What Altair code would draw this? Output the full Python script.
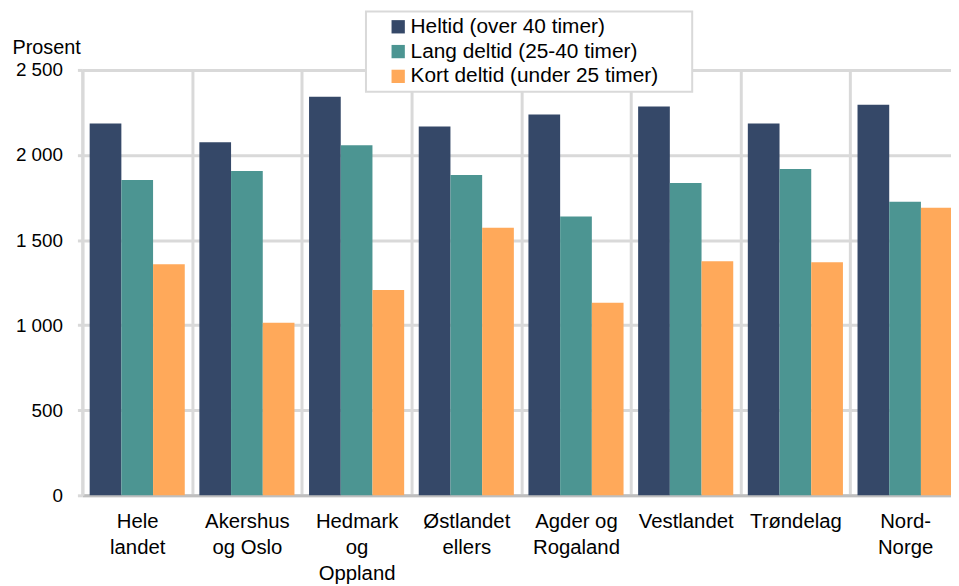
import altair as alt
import pandas as pd

categories = ["Hele|landet", "Akershus|og Oslo", "Hedmark|og|Oppland", "Østlandet|ellers",
              "Agder og|Rogaland", "Vestlandet", "Trøndelag", "Nord-|Norge"]
series = ["Heltid (over 40 timer)", "Lang deltid (25-40 timer)", "Kort deltid (under 25 timer)"]
heltid = [2185, 2075, 2343, 2168, 2238, 2285, 2185, 2296]
lang_deltid = [1853, 1906, 2057, 1882, 1638, 1836, 1917, 1725]
kort_deltid = [1358, 1014, 1206, 1573, 1131, 1375, 1370, 1690]
colors = ["#354868", "#4c9592", "#ffa95a"]
y_ticks = [0, 500, 1000, 1500, 2000, 2500]

rows = []
for s, vals in zip(series, [heltid, lang_deltid, kort_deltid]):
    for c, v in zip(categories, vals):
        rows.append({"kategori": c, "serie": s, "verdi": v})
df = pd.DataFrame(rows)

FONT = "Liberation Sans"
PAD = "\u00a0" * 5 + "\u200b"

chart = alt.Chart(df).mark_bar().encode(
    x=alt.X(
        "kategori:N", sort=categories,
        scale=alt.Scale(paddingInner=0, paddingOuter=0, range=[0, 885]),
        axis=alt.Axis(
            title=None, labelExpr="split(datum.label, '|')", labelAngle=0,
            labelFontSize=20.5, labelLineHeight=26.5, labelPadding=32, labelBaseline="alphabetic",
            labelColor="black", labelFont=FONT, ticks=False, grid=True, tickBand="extent",
            gridColor="#d9d9d9", gridWidth=3, domainColor="#bfbfbf", domainWidth=3,
        ),
    ),
    xOffset=alt.XOffset("serie:N", sort=series,
                        scale=alt.Scale(paddingInner=0, paddingOuter=0.23)),
    y=alt.Y(
        "verdi:Q",
        scale=alt.Scale(domain=[0, 2500], nice=False),
        axis=alt.Axis(
            values=y_ticks, labelExpr="replace(format(datum.value, ','), ',', ' ')",
            title="Prosent", titleAngle=0, titleAlign="left", titleBaseline="alphabetic",
            titleX=-71, titleY=-17, titleFontSize=20, titleFontWeight="normal",
            titleFont=FONT, titleColor="black",
            labelFontSize=19, labelFont=FONT, labelColor="black", labelPadding=15,
            tickSize=5, tickColor="#d9d9d9", tickWidth=3,
            gridColor="#d9d9d9", gridWidth=3, domainColor="#d9d9d9", domainWidth=3,
        ),
    ),
    color=alt.Color(
        "serie:N", sort=series,
        scale=alt.Scale(domain=series, range=colors),
        legend=alt.Legend(
            title=None, orient="none", legendX=286, legendY=-59,
            labelFontSize=21, labelFont=FONT, labelColor="black", labelLimit=500,
            labelExpr="datum.label + '" + PAD + "'",
            symbolType="square", symbolSize=180, symbolStrokeWidth=0,
            symbolOffset=17, labelOffset=2, rowPadding=3, padding=5,
            strokeColor="#d9d9d9", fillColor="white",
        ),
    ),
).properties(
    width=876, height=429,
    autosize=alt.AutoSizeParams(type="none"),
    padding={"left": 75, "top": 60, "right": 0, "bottom": 88},
).configure_view(stroke=None).configure_legend(strokeWidth=2)

chart.save("out.html", embed_options={"renderer": "svg", "actions": False})
